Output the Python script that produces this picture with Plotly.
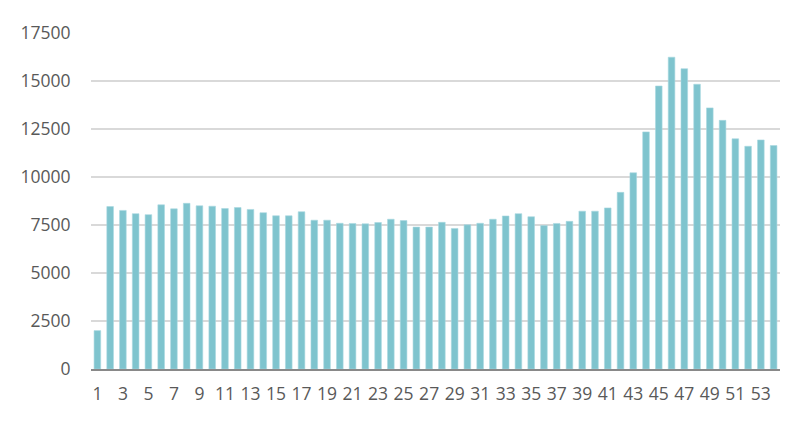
import plotly.graph_objects as go

weeks = list(range(1, 55))
values = [2000, 8460, 8260, 8090, 8040, 8550, 8340, 8630, 8500, 8480,
          8360, 8410, 8310, 8140, 7980, 7980, 8190, 7750, 7750, 7590,
          7580, 7560, 7630, 7800, 7730, 7390, 7390, 7640, 7320, 7510,
          7590, 7800, 7970, 8090, 7930, 7470, 7580, 7690, 8220, 8220,
          8390, 9200, 10220, 12350, 14740, 16240, 15640, 14830, 13600, 12950,
          11990, 11600, 11930, 11640]
y_ticks = [0, 2500, 5000, 7500, 10000, 12500, 15000, 17500]

fig = go.Figure(go.Bar(
    x=weeks, y=values,
    marker=dict(color="#7fc4ce", line=dict(width=0.6, color="#a9d9e0")),
    width=0.52,
))

fig.update_layout(
    width=800, height=430,
    margin=dict(l=79, r=28, t=20, b=69),
    paper_bgcolor="white", plot_bgcolor="white",
    font=dict(family="Open Sans", size=17.5, color="#595959"),
    showlegend=False,
    xaxis=dict(
        range=[0.5, 54.5], tickmode="array",
        tickvals=list(range(1, 55, 2)), ticktext=[str(v) for v in range(1, 55, 2)],
        showgrid=False, showline=True, linecolor="#898989", linewidth=2,
        ticks="outside", ticklen=8, tickcolor="rgba(0,0,0,0)",
        zeroline=False,
    ),
    yaxis=dict(
        range=[0, 17500], tickvals=y_ticks, ticktext=[str(v) for v in y_ticks],
        showgrid=True, gridcolor="#d9d9d9", gridwidth=1.5,
        zeroline=False, showline=False,
        ticks="outside", ticklen=16, tickcolor="rgba(0,0,0,0)",
    ),
)

fig.write_html("out.html")
